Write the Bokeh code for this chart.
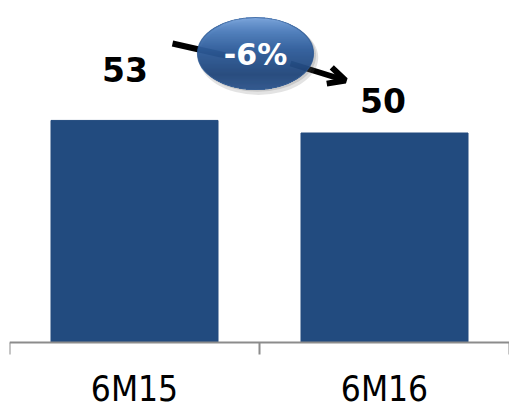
import math
from bokeh.plotting import figure
from bokeh.models import Range1d, Arrow, OpenHead, ColumnDataSource
from bokeh.core.properties import value
from bokeh.embed import file_html
from bokeh.resources import INLINE

# ---- data ----
categories = ["6M15", "6M16"]
values = [53, 50]
change_label = "-6%"

# ---- layout helpers (pixel geometry) ----
W, H = 509, 411
left_px, base_px = 9, 342
px_per_cat = 250.0
px_per_unit = 4.19


def dx(px):
    return (px - left_px) / px_per_cat


def dy(py):
    return (base_px - py) / px_per_unit


BAR = "#224B7F"
AX = "#8c8c8c"

p = figure(width=W, height=H, x_range=Range1d(0, 2),
           y_range=Range1d(dy(H), dy(0)),
           output_backend="svg", toolbar_location=None,
           x_axis_location=None, y_axis_location=None,
           min_border_left=left_px, min_border_right=0, min_border_top=0,
           min_border_bottom=0)
p.outline_line_color = None
p.xgrid.visible = False
p.ygrid.visible = False
p.background_fill_color = "white"

n_cat = len(categories)
xs = [i + 0.5 for i in range(n_cat)]
p.vbar(x=xs, top=values, width=0.668, color=BAR)

# category axis: baseline, boundary ticks, labels
p.segment(x0=[0], y0=[0], x1=[n_cat], y1=[0], line_color=AX, line_width=2)
bounds = list(range(n_cat + 1))
p.segment(x0=bounds, y0=[0] * len(bounds), x1=bounds, y1=[dy(base_px + 12)] * len(bounds),
          line_color=AX, line_width=2)
p.text(x=xs, y=[dy(388)] * n_cat, text=categories,
       text_font=value("DejaVu Sans Condensed"), text_font_size="35px",
       text_align="center", text_baseline="alphabetic", text_color="black")

# value labels
label_dx = [-9.5, -1.5]
label_dy = [-51, -33]
src = ColumnDataSource(dict(x=xs, y=values, t=[str(v) for v in values],
                            xo=label_dx, yo=label_dy))
p.text(x="x", y="y", text="t", x_offset="xo", y_offset="yo", source=src,
       text_font=value("DejaVu Sans"), text_font_style="bold",
       text_font_size="33px", text_align="center", text_baseline="alphabetic",
       text_color="black")

# arrow from first to second value
p.segment(x0=[dx(172)], y0=[dy(43)], x1=[dx(225)], y1=[dy(55)],
          line_color="black", line_width=6)
arr = Arrow(x_start=dx(290), y_start=dy(63), x_end=dx(345), y_end=dy(80),
            line_color="black", line_width=6,
            end=OpenHead(size=17, line_width=6, line_color="black"))
arr.level = "underlay"
p.add_layout(arr)

# ellipse badge with vertical gradient
cx_px, cy_px, ew_px, eh_px = 255, 53, 116, 72
cx, cy = dx(cx_px), dy(cy_px)
ew, eh = ew_px / px_per_cat, eh_px / px_per_unit

# shadow
p.ellipse(x=[dx(cx_px + 3)], y=[dy(cy_px + 4)], width=ew * 1.03, height=eh * 1.04,
          fill_color="#666666", fill_alpha=0.18, line_color=None)
p.ellipse(x=[dx(cx_px + 2)], y=[dy(cy_px + 2)], width=ew * 1.01, height=eh * 1.01,
          fill_color="#555555", fill_alpha=0.18, line_color=None)

stops = [(0.0, (0x74, 0xA0, 0xDA)), (0.2, (0x4A, 0x7B, 0xBB)), (0.45, (0x2D, 0x5C, 0x9B)),
         (0.8, (0x1F, 0x45, 0x7A)), (1.0, (0x2A, 0x52, 0x8A))]


def grad(t):
    for (t0, c0), (t1, c1) in zip(stops[:-1], stops[1:]):
        if t <= t1:
            f = (t - t0) / (t1 - t0)
            return "#%02x%02x%02x" % tuple(int(round(a + (b - a) * f)) for a, b in zip(c0, c1))
    return "#%02x%02x%02x" % stops[-1][1]


n = eh_px
L, R, T, B, C = [], [], [], [], []
for i in range(n):
    ytop = cy_px - eh_px / 2 + i
    ymid = ytop + 0.5
    rr = (ymid - cy_px) / (eh_px / 2)
    half = (ew_px / 2) * math.sqrt(max(0.0, 1 - rr * rr))
    L.append(dx(cx_px - half))
    R.append(dx(cx_px + half))
    T.append(dy(ytop - 0.3))
    B.append(dy(ytop + 1.3))
    C.append(grad(i / (n - 1)))
p.quad(left=L, right=R, top=T, bottom=B, fill_color=C, line_color=None)
p.ellipse(x=[cx], y=[cy], width=ew, height=eh, fill_color=None,
          line_color="#2a5590", line_width=1.2, line_alpha=0.7)

p.text(x=[cx], y=[dy(54)], text=[change_label], text_font=value("DejaVu Sans"),
       text_font_style="bold", text_font_size="30px", text_color="white",
       text_align="center", text_baseline="middle")

open("out.html", "w").write(file_html(p, INLINE))
